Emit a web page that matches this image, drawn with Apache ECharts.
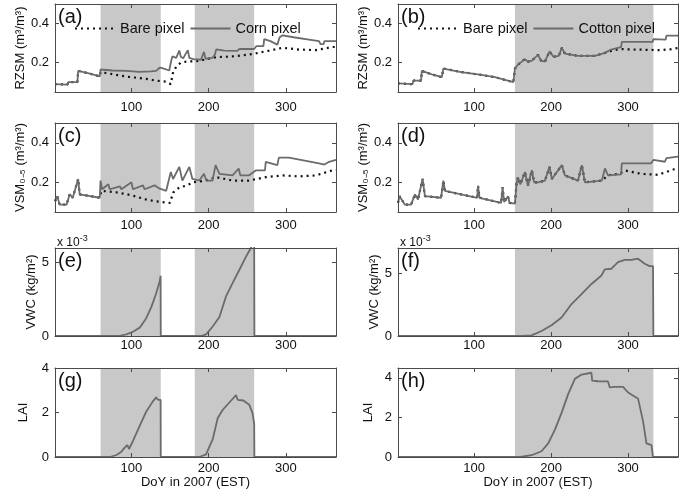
<!DOCTYPE html>
<html><head><meta charset="utf-8">
<script src="https://cdn.jsdelivr.net/npm/echarts@6/dist/echarts.min.js"></script>
<style>html,body{margin:0;padding:0;background:#fff}#c{width:690px;height:493px}</style>
</head><body><div id="c"></div>
<script>
// ---------- DATA (day of year, value) ----------
const xTickValues = [100, 200, 300];
const cornSeasons = [[60, 138], [182, 259]];
const cottonSeasons = [[153, 333]];

// (a) RZSM, corn field
const rzsmCorn = [[1,0.09],[17,0.088],[18,0.1],[30,0.1],[31,0.158],[45,0.145],[59,0.13],[60,0.165],[75,0.16],[94,0.158],[110,0.153],[125,0.155],[132,0.158],[137,0.175],[140,0.172],[149,0.16],[151,0.2],[153,0.232],[158,0.225],[162,0.262],[164,0.23],[167,0.222],[173,0.264],[175,0.225],[180,0.218],[190,0.215],[194,0.255],[196,0.22],[205,0.225],[208,0.24],[210,0.268],[220,0.262],[237,0.26],[240,0.27],[259,0.27],[262,0.285],[271,0.285],[272,0.32],[280,0.31],[289,0.292],[292,0.33],[296,0.34],[310,0.33],[330,0.318],[343,0.31],[345,0.295],[349,0.295],[350,0.31],[365,0.31]];
const rzsmBareA = [[1,0.09],[17,0.088],[18,0.1],[30,0.1],[31,0.158],[45,0.145],[59,0.13],[60,0.152],[93,0.129],[119,0.117],[132,0.108],[145,0.103],[151,0.09],[154,0.152],[158,0.179],[164,0.2],[171,0.205],[188,0.209],[197,0.218],[210,0.228],[231,0.232],[257,0.244],[274,0.258],[296,0.276],[317,0.267],[339,0.264],[360,0.28],[365,0.28]];
// (b) RZSM, cotton field
const rzsmCotton = [[1,0.094],[20,0.09],[21,0.108],[31,0.108],[32,0.158],[45,0.14],[58,0.126],[60,0.17],[83,0.152],[105,0.14],[127,0.126],[151,0.1],[153,0.17],[157,0.19],[166,0.218],[170,0.205],[175,0.21],[183,0.24],[187,0.21],[192,0.205],[198,0.258],[203,0.23],[210,0.235],[214,0.276],[218,0.246],[235,0.235],[257,0.235],[270,0.25],[278,0.267],[291,0.28],[292,0.306],[320,0.306],[332,0.306],[333,0.32],[349,0.318],[350,0.338],[365,0.338]];
const rzsmBareB = [[1,0.094],[20,0.09],[21,0.108],[31,0.108],[32,0.158],[45,0.14],[58,0.126],[60,0.17],[83,0.152],[105,0.14],[127,0.126],[151,0.1],[153,0.17],[157,0.19],[166,0.218],[170,0.205],[175,0.21],[183,0.24],[187,0.21],[192,0.205],[198,0.258],[203,0.23],[210,0.235],[214,0.276],[218,0.246],[235,0.235],[257,0.235],[270,0.25],[280,0.262],[290,0.27],[300,0.268],[320,0.266],[340,0.264],[355,0.268],[365,0.275]];
// (c) VSM 0-5 cm, corn field
const vsmCorn = [[1,0.104],[4,0.13],[7,0.087],[16,0.087],[20,0.14],[24,0.122],[31,0.217],[33,0.139],[59,0.122],[60,0.209],[62,0.165],[70,0.19],[72,0.165],[85,0.18],[87,0.165],[100,0.2],[102,0.165],[115,0.185],[117,0.165],[130,0.185],[136,0.169],[145,0.157],[151,0.252],[154,0.217],[162,0.278],[166,0.209],[175,0.278],[179,0.217],[188,0.209],[194,0.243],[197,0.209],[205,0.209],[209,0.287],[214,0.243],[231,0.235],[239,0.27],[241,0.235],[252,0.235],[261,0.26],[273,0.26],[274,0.304],[289,0.287],[291,0.325],[304,0.325],[343,0.296],[350,0.29],[356,0.304],[365,0.313]];
const vsmBareC = [[1,0.104],[4,0.13],[7,0.087],[16,0.087],[20,0.14],[24,0.122],[31,0.217],[33,0.139],[59,0.122],[61,0.157],[80,0.15],[100,0.135],[119,0.113],[132,0.104],[150,0.096],[152,0.1],[154,0.148],[162,0.174],[171,0.183],[180,0.2],[196,0.209],[210,0.226],[231,0.209],[252,0.209],[274,0.226],[296,0.235],[317,0.23],[339,0.235],[360,0.26],[365,0.262]];
// (d) VSM 0-5 cm, cotton field
const vsmCotton = [[1,0.096],[3,0.13],[10,0.087],[18,0.087],[23,0.139],[27,0.113],[33,0.217],[36,0.13],[57,0.122],[60,0.209],[62,0.157],[83,0.139],[104,0.122],[105,0.183],[107,0.122],[135,0.096],[137,0.174],[139,0.1],[144,0.13],[146,0.096],[153,0.092],[155,0.191],[157,0.226],[160,0.19],[166,0.252],[170,0.183],[175,0.261],[178,0.2],[183,0.2],[192,0.209],[198,0.278],[201,0.217],[214,0.287],[218,0.235],[235,0.209],[240,0.287],[244,0.2],[266,0.209],[270,0.27],[274,0.235],[291,0.24],[292,0.296],[330,0.296],[333,0.313],[348,0.304],[350,0.322],[365,0.33]];
const vsmBareD = [[1,0.096],[3,0.13],[10,0.087],[18,0.087],[23,0.139],[27,0.113],[33,0.217],[36,0.13],[57,0.122],[60,0.209],[62,0.157],[83,0.139],[104,0.122],[105,0.183],[107,0.122],[135,0.096],[137,0.174],[139,0.1],[144,0.13],[146,0.096],[153,0.092],[155,0.191],[157,0.226],[160,0.19],[166,0.252],[170,0.183],[175,0.261],[178,0.2],[183,0.2],[192,0.209],[198,0.278],[201,0.217],[214,0.287],[218,0.235],[235,0.209],[240,0.287],[244,0.2],[266,0.209],[274,0.235],[290,0.245],[296,0.26],[317,0.243],[339,0.238],[360,0.266],[365,0.266]];
// (e) VWC corn (x 10^-3 kg/m2)
const vwcCorn = [[1,0],[80,0],[86,0.03],[93.5,0.11],[102,0.29],[110.7,0.57],[119,1.2],[126,2.0],[132,2.9],[136.5,3.7],[137.8,4.1],[138,0],[188,0],[192,0.03],[196.7,0.11],[205,0.63],[214,1.3],[222.5,2.7],[231,3.6],[239.7,4.5],[248.3,5.4],[254.8,6.0],[259,6.5],[259.3,0],[365,0]];
// (f) VWC cotton
const vwcCotton = [[1,0],[162,0],[174.6,0.05],[187.6,0.4],[200.6,0.86],[213.6,1.47],[226.6,2.54],[239.6,3.34],[252.5,4.14],[265.5,4.81],[269.8,5.3],[278.5,5.35],[287,5.88],[295.8,6.05],[304.5,6.05],[313,6.15],[321.8,5.75],[328,5.56],[332.5,5.56],[333,0],[365,0]];
// (g) LAI corn
const laiCorn = [[1,0],[72,0],[80.6,0.09],[87,0.24],[91.3,0.42],[94.8,0.54],[96.9,0.36],[102,0.72],[110.7,1.4],[119.3,2.05],[127.8,2.5],[132,2.68],[134.3,2.57],[137.8,2.57],[138,0],[188,0],[196.7,0.12],[205.3,0.8],[211.8,1.75],[218.3,2.12],[226.8,2.45],[235.5,2.78],[237.6,2.57],[245,2.54],[252.6,2.35],[256.9,1.97],[259,1.5],[259.3,0],[365,0]];
// (h) LAI cotton
const laiCotton = [[1,0],[160,0],[174.6,0.09],[187.6,0.29],[196.3,0.69],[204.9,1.37],[213.6,2.23],[222.2,3.18],[230.9,3.95],[239.6,4.17],[252.5,4.26],[253.4,3.86],[261,3.83],[274,3.82],[276.3,3.52],[282.8,3.55],[293.6,3.55],[300.1,3.26],[313.1,2.95],[319.6,1.8],[324,0.69],[330.5,0.6],[332.5,0],[365,0]];

// ---------- LAYOUT ----------
const FONT = '"Liberation Sans", Arial, Helvetica, sans-serif';
const cols = [{left:55, width:281}, {left:398, width:280}];
const rows = [{top:4, height:88, lm:9}, {top:123, height:89, lm:7}, {top:248, height:88, lm:3}, {top:368, height:89, lm:5}];
const GRAY = '#6b6b6b', AX = '#4a4a4a';

const panels = [
  {c:0,r:0,ymin:0.05,ymax:0.5,yt:[0.2,0.4],yname:'RZSM (m³/m³)',gap:27,lab:'(a)',shade:cornSeasons,
   lines:[['Bare pixel',rzsmBareA,'dot'],['Corn pixel',rzsmCorn,'solid']],legend:['Bare pixel','Corn pixel']},
  {c:1,r:0,ymin:0.05,ymax:0.5,yt:[0.2,0.4],yname:'RZSM (m³/m³)',gap:25,lab:'(b)',shade:cottonSeasons,
   lines:[['Bare pixel',rzsmBareB,'dot'],['Cotton pixel',rzsmCotton,'solid']],legend:['Bare pixel','Cotton pixel']},
  {c:0,r:1,ymin:0.05,ymax:0.5,yt:[0.2,0.4],yname:'VSM₀₋₅ (m³/m³)',gap:27,lab:'(c)',shade:cornSeasons,
   lines:[['Bare pixel',vsmBareC,'dot'],['Corn pixel',vsmCorn,'solid']]},
  {c:1,r:1,ymin:0.05,ymax:0.5,yt:[0.2,0.4],yname:'VSM₀₋₅ (m³/m³)',gap:25,lab:'(d)',shade:cottonSeasons,
   lines:[['Bare pixel',vsmBareD,'dot'],['Cotton pixel',vsmCotton,'solid']]},
  {c:0,r:2,ymin:0,ymax:6,yt:[0,5],yname:'VWC (kg/m²)',gap:13,lab:'(e)',shade:cornSeasons,
   lines:[['VWC corn',vwcCorn,'solid']],exp:true},
  {c:1,r:2,ymin:0,ymax:7,yt:[0,5],yname:'VWC (kg/m²)',gap:11,lab:'(f)',shade:cottonSeasons,
   lines:[['VWC cotton',vwcCotton,'solid']],exp:true},
  {c:0,r:3,ymin:0,ymax:4,yt:[0,2,4],yname:'LAI',gap:25,lab:'(g)',shade:cornSeasons,
   lines:[['LAI corn',laiCorn,'solid']],xname:true},
  {c:1,r:3,ymin:0,ymax:4.5,yt:[0,2,4],yname:'LAI',gap:23,lab:'(h)',shade:cottonSeasons,
   lines:[['LAI cotton',laiCotton,'solid']],xname:true}
];

const grid=[], xAxis=[], yAxis=[], series=[], legend=[], graphic=[];
panels.forEach((p,i)=>{
  const g = {left:cols[p.c].left, top:rows[p.r].top, width:cols[p.c].width, height:rows[p.r].height, show:false, containLabel:false};
  grid.push(g);
  const tick = {show:true, inside:true, length:4, lineStyle:{color:AX,width:1}};
  const line = {show:true, onZero:false, lineStyle:{color:AX,width:1}};
  xAxis.push({type:'value', gridIndex:i, min:1, max:365, position:'bottom', z:10,
    axisLine:line, axisTick:Object.assign({customValues:xTickValues},tick),
    axisLabel:{customValues:xTickValues, margin:rows[p.r].lm, fontSize:13, color:'#111', fontFamily:FONT},
    splitLine:{show:false},
    name:p.xname?'DoY in 2007 (EST)':'', nameLocation:'middle', nameGap:17,
    nameTextStyle:{fontSize:13, color:'#111', fontFamily:FONT}});
  xAxis.push({type:'value', gridIndex:i, min:1, max:365, position:'top', z:10,
    axisLine:line, axisTick:Object.assign({customValues:xTickValues},tick),
    axisLabel:{show:false}, splitLine:{show:false}});
  yAxis.push({type:'value', gridIndex:i, min:p.ymin, max:p.ymax, position:'left', z:10,
    axisLine:line, axisTick:Object.assign({customValues:p.yt},tick),
    axisLabel:{customValues:p.yt, margin:6, fontSize:13, color:'#111', fontFamily:FONT},
    splitLine:{show:false},
    name:p.yname, nameLocation:'middle', nameRotate:90, nameGap:p.gap,
    nameTextStyle:{fontSize:13, color:'#111', fontFamily:FONT}});
  yAxis.push({type:'value', gridIndex:i, min:p.ymin, max:p.ymax, position:'right', z:10,
    axisLine:line, axisTick:Object.assign({customValues:p.yt},tick),
    axisLabel:{show:false}, splitLine:{show:false}});
  series.push({type:'line', xAxisIndex:2*i, yAxisIndex:2*i, data:[], silent:true, z:1, animation:false,
    markArea:{silent:true, itemStyle:{color:'#c8c8c8', opacity:1}, data:p.shade.map(s=>[{xAxis:s[0]},{xAxis:s[1]}])}});
  p.lines.forEach(([name,data,kind])=>{
    const col = kind==='dot' ? '#111' : GRAY;
    series.push({type:'line', name, xAxisIndex:2*i, yAxisIndex:2*i, data, symbol:'none', showSymbol:false,
      animation:false, clip:true, z:kind==='dot'?3:4, color:col,
      itemStyle:{color:col, opacity:0},
      lineStyle: kind==='dot' ? {color:col, width:2.2, type:[2,4]} : {color:col, width:1.8}});
  });
  if (p.legend) {
    legend.push({left:g.left+14, top:g.top+12, itemWidth:40, itemHeight:12, itemGap:5, selectedMode:false,
      itemStyle:{opacity:0},
      textStyle:{fontSize:14.5, color:'#111', fontFamily:FONT}, data:p.legend});
  }
  graphic.push({type:'text', left:g.left+3, top:g.top+3, z:20,
    style:{text:p.lab, fontSize:20, fill:'#111', fontFamily:FONT}});
  if (p.exp) {
    graphic.push({type:'text', left:g.left+2, top:g.top-14, z:20,
      style:{text:'{a|x 10}{b|-3}', fontFamily:FONT,
        rich:{a:{fontSize:12, fill:'#111', fontFamily:FONT, verticalAlign:'bottom'},
              b:{fontSize:9, fill:'#111', fontFamily:FONT, verticalAlign:'top', padding:[0,0,6,0]}}}});
  }
});

const chart = echarts.init(document.getElementById('c'), null, {renderer:'canvas'});
chart.setOption({animation:false, backgroundColor:'#fff', grid, xAxis, yAxis, series, legend, graphic});
</script></body></html>
